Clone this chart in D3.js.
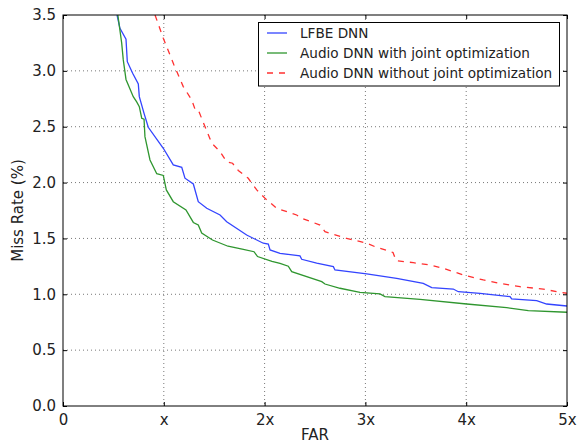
<!DOCTYPE html>
<html>
<head>
<meta charset="utf-8">
<script src="https://cdn.jsdelivr.net/npm/d3@7"></script>
<style>
  body { margin: 0; background: #fff; }
  text { font-family: "DejaVu Sans", sans-serif; fill: #222; }
</style>
</head>
<body>
<svg id="chart" width="577" height="444"></svg>
<script>
// values (FAR in units of x, miss rate in %)
var lfbeFar = [0.536, 0.565, 0.625, 0.638, 0.691, 0.747, 0.757, 0.804, 0.846, 0.995, 1.094, 1.178, 1.210, 1.293, 1.342, 1.426, 1.558, 1.624, 1.822, 1.987, 2.037, 2.054, 2.153, 2.351, 2.368, 2.517, 2.682, 2.698, 3.013, 3.310, 3.574, 3.658, 3.872, 3.922, 4.137, 4.435, 4.451, 4.699, 4.798, 5.0];
var lfbeMiss = [3.50, 3.381, 3.283, 3.082, 2.979, 2.883, 2.769, 2.620, 2.495, 2.307, 2.158, 2.137, 2.039, 1.987, 1.829, 1.770, 1.710, 1.650, 1.531, 1.457, 1.450, 1.397, 1.367, 1.343, 1.313, 1.278, 1.247, 1.218, 1.182, 1.143, 1.098, 1.059, 1.047, 1.023, 1.009, 0.979, 0.958, 0.943, 0.913, 0.895];

var jointFar = [0.544, 0.582, 0.598, 0.625, 0.697, 0.731, 0.757, 0.781, 0.804, 0.813, 0.863, 0.930, 0.995, 1.025, 1.094, 1.220, 1.293, 1.342, 1.376, 1.483, 1.637, 1.789, 1.895, 1.930, 2.073, 2.153, 2.235, 2.269, 2.567, 2.599, 2.748, 2.946, 3.145, 3.194, 3.542, 4.005, 4.402, 4.616, 5.0];
var jointMiss = [3.50, 3.25, 3.098, 2.923, 2.769, 2.722, 2.680, 2.576, 2.567, 2.411, 2.202, 2.079, 2.064, 1.934, 1.829, 1.755, 1.643, 1.620, 1.549, 1.486, 1.430, 1.403, 1.381, 1.338, 1.294, 1.276, 1.251, 1.202, 1.113, 1.092, 1.054, 1.018, 1.003, 0.979, 0.955, 0.913, 0.880, 0.853, 0.839];

var noJointFar = [0.913, 0.995, 1.101, 1.193, 1.277, 1.310, 1.342, 1.409, 1.475, 1.558, 1.624, 1.682, 1.739, 1.838, 1.922, 2.004, 2.120, 2.318, 2.368, 2.550, 2.599, 2.814, 3.013, 3.095, 3.274, 3.304, 3.475, 3.641, 3.773, 3.971, 4.170, 4.335, 4.534, 4.765, 4.898, 5.0];
var noJointMiss = [3.50, 3.292, 3.053, 2.859, 2.740, 2.656, 2.650, 2.500, 2.354, 2.277, 2.187, 2.173, 2.108, 2.038, 1.934, 1.859, 1.770, 1.710, 1.680, 1.620, 1.560, 1.501, 1.457, 1.426, 1.374, 1.301, 1.283, 1.262, 1.232, 1.173, 1.128, 1.098, 1.068, 1.047, 1.023, 1.009];

var xTicks = [0, 1, 2, 3, 4, 5];
var xTickLabels = ["0", "x", "2x", "3x", "4x", "5x"];
var yTicks = [0, 0.5, 1, 1.5, 2, 2.5, 3, 3.5];
var seriesNames = ["LFBE DNN", "Audio DNN with joint optimization", "Audio DNN without joint optimization"];

var series = [
    { name: seriesNames[0], far: lfbeFar, miss: lfbeMiss, color: "#3344ff", dash: null },
    { name: seriesNames[1], far: jointFar, miss: jointMiss, color: "#2f962f", dash: null },
    { name: seriesNames[2], far: noJointFar, miss: noJointMiss, color: "#ff3030", dash: "6,6" }
];

var plotL = 63, plotR = 567, plotT = 15, plotB = 406;

var svg = d3.select('#chart');

var x = d3.scaleLinear().domain([0, 5]).range([plotL, plotR]);
var y = d3.scaleLinear().domain([0, 3.5]).range([plotB, plotT]);

// grid
var grid = svg.append('g');
grid.selectAll('.gx')
    .data(xTicks.slice(1, -1))
    .enter().append('line')
    .attr('x1', d => x(d)).attr('x2', d => x(d))
    .attr('y1', plotT).attr('y2', plotB)
    .attr('stroke', '#555').attr('stroke-width', 0.8)
    .attr('stroke-dasharray', '1,3');
grid.selectAll('.gy')
    .data(yTicks.slice(1, -1))
    .enter().append('line')
    .attr('y1', d => y(d)).attr('y2', d => y(d))
    .attr('x1', plotL).attr('x2', plotR)
    .attr('stroke', '#555').attr('stroke-width', 0.8)
    .attr('stroke-dasharray', '1,3');

svg.append('clipPath').attr('id', 'clip')
    .append('rect')
    .attr('x', plotL).attr('y', plotT)
    .attr('width', plotR - plotL).attr('height', plotB - plotT);

var line = d3.line()
    .x(d => x(d[0]))
    .y(d => y(d[1]));

svg.append('g').attr('clip-path', 'url(#clip)')
    .selectAll('path')
    .data(series)
    .enter().append('path')
    .attr('d', s => line(s.far.map((f, i) => [f, s.miss[i]])))
    .attr('fill', 'none')
    .attr('stroke', s => s.color)
    .attr('stroke-width', 1.3)
    .attr('stroke-dasharray', s => s.dash);

// axes: inside ticks on all four sides, like matplotlib classic
var axBottom = svg.append('g').attr('transform', 'translate(0,' + plotB + ')')
    .call(d3.axisBottom(x).tickValues(xTicks).tickFormat((d, i) => xTickLabels[i]).tickSizeInner(-4).tickSizeOuter(0).tickPadding(8));
var axTop = svg.append('g').attr('transform', 'translate(0,' + plotT + ')')
    .call(d3.axisTop(x).tickValues(xTicks).tickFormat('').tickSizeInner(-4).tickSizeOuter(0));
var axLeft = svg.append('g').attr('transform', 'translate(' + plotL + ',0)')
    .call(d3.axisLeft(y).tickValues(yTicks).tickFormat(d3.format('.1f')).tickSizeInner(-4).tickSizeOuter(0).tickPadding(7));
var axRight = svg.append('g').attr('transform', 'translate(' + plotR + ',0)')
    .call(d3.axisRight(y).tickValues(yTicks).tickFormat('').tickSizeInner(-4).tickSizeOuter(0));

[axBottom, axTop, axLeft, axRight].forEach(function (a) {
    a.select('.domain').remove();
    a.selectAll('line').attr('stroke', '#000');
    a.selectAll('text').style('font-size', '15px').style('font-family', '"DejaVu Sans", sans-serif').attr('fill', '#222');
});

svg.append('rect')
    .attr('x', plotL).attr('y', plotT)
    .attr('width', plotR - plotL).attr('height', plotB - plotT)
    .attr('fill', 'none').attr('stroke', '#000').attr('stroke-width', 1);

svg.append('text')
    .attr('x', (plotL + plotR) / 2).attr('y', 440)
    .attr('text-anchor', 'middle')
    .style('font-size', '15px')
    .text('FAR');

svg.append('text')
    .attr('transform', 'translate(23,' + ((plotT + plotB) / 2) + ') rotate(-90)')
    .attr('text-anchor', 'middle')
    .style('font-size', '15px')
    .text('Miss Rate (%)');

// legend
var legend = svg.append('g');
legend.append('rect')
    .attr('x', 258.5).attr('y', 22.5)
    .attr('width', 301).attr('height', 63.5)
    .attr('fill', '#fff').attr('stroke', '#000').attr('stroke-width', 1);

var row = legend.selectAll('.row')
    .data(series)
    .enter().append('g')
    .attr('transform', (d, i) => 'translate(0,' + (33 + i * 20) + ')');
row.append('line')
    .attr('x1', 267).attr('x2', 287)
    .attr('stroke', d => d.color)
    .attr('stroke-width', 1.3)
    .attr('stroke-dasharray', d => d.dash);
row.append('text')
    .attr('x', 300).attr('y', 4.5)
    .style('font-size', '13.6px')
    .text(d => d.name);
</script>
</body>
</html>
